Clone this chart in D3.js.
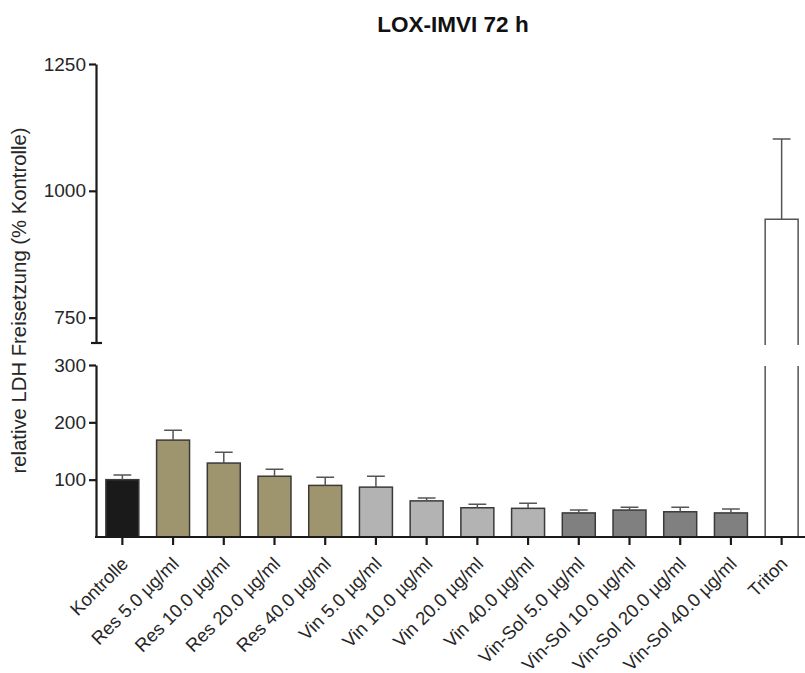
<!DOCTYPE html>
<html>
<head>
<meta charset="utf-8">
<script src="https://cdn.jsdelivr.net/npm/d3@7"></script>
<style>
  body { margin: 0; background: #fff; }
  svg { display: block; font-family: "Liberation Sans", Arial, sans-serif; }
</style>
</head>
<body>
<svg id="chart" width="805" height="673"></svg>
<script>
// ---- data ----
const categories = ["Kontrolle", "Res 5.0 µg/ml", "Res 10.0 µg/ml", "Res 20.0 µg/ml", "Res 40.0 µg/ml",
  "Vin 5.0 µg/ml", "Vin 10.0 µg/ml", "Vin 20.0 µg/ml", "Vin 40.0 µg/ml",
  "Vin-Sol 5.0 µg/ml", "Vin-Sol 10.0 µg/ml", "Vin-Sol 20.0 µg/ml", "Vin-Sol 40.0 µg/ml", "Triton"];
const groups = ["Kontrolle", "Res", "Res", "Res", "Res", "Vin", "Vin", "Vin", "Vin",
  "Vin-Sol", "Vin-Sol", "Vin-Sol", "Vin-Sol", "Triton"];
const means = [100, 169, 129, 106, 90, 87, 63, 51, 50, 42, 47, 44, 42, 944];
const errors = [8, 17, 19, 12, 14, 19, 5, 6, 9, 5, 5, 8, 7, 158];
const lowTicks = [100, 200, 300];
const highTicks = [750, 1000, 1250];
const lowDomain = [0, 300];
const highDomain = [700, 1250];
const title = "LOX-IMVI 72 h";
const yLabel = "relative LDH Freisetzung (% Kontrolle)";

// ---- styles ----
const groupColor = { "Kontrolle": "#1a1a1a", "Res": "#9e946d", "Vin": "#b3b3b3", "Vin-Sol": "#808080", "Triton": "#ffffff" };
const textColor = "#262626";

const svg = d3.select("#chart");
const axisX = 96;

const x = d3.scaleBand().domain(categories).range([97, 807]).paddingInner(0.35).paddingOuter(0.175);
const yLow = d3.scaleLinear().domain(lowDomain).range([537, 365]);
const yHigh = d3.scaleLinear().domain(highDomain).range([343, 64]);

const data = categories.map((c, i) => ({ c, g: groups[i], v: means[i], e: errors[i] }));

const barStroke = "#3a3a3a";
const bars = svg.append("g");
data.forEach(d => {
  const x0 = x(d.c), x1 = x(d.c) + x.bandwidth();
  const col = groupColor[d.g];
  if (d.v <= lowDomain[1]) {
    bars.append("rect").attr("x", x0).attr("y", yLow(d.v)).attr("width", x.bandwidth())
      .attr("height", yLow(0) - yLow(d.v)).attr("fill", col)
      .attr("stroke", barStroke).attr("stroke-width", 1.5);
  } else {
    const ytop = yLow(lowDomain[1]) + 1;
    bars.append("rect").attr("x", x0).attr("y", ytop).attr("width", x.bandwidth())
      .attr("height", yLow(0) - ytop).attr("fill", col);
    bars.append("path").attr("d", `M${x0},${ytop}V${yLow(0)}H${x1}V${ytop}`)
      .attr("fill", "none").attr("stroke", "#555").attr("stroke-width", 1.5);
    const ybot = yHigh(highDomain[0]) + 2;
    bars.append("rect").attr("x", x0).attr("y", yHigh(d.v)).attr("width", x.bandwidth())
      .attr("height", ybot - yHigh(d.v)).attr("fill", col);
    bars.append("path").attr("d", `M${x0},${ybot}V${yHigh(d.v)}H${x1}V${ybot}`)
      .attr("fill", "none").attr("stroke", "#555").attr("stroke-width", 1.5);
  }
  const ys = d.v <= lowDomain[1] ? yLow : yHigh;
  const cx = x0 + x.bandwidth() / 2;
  const cw = x.bandwidth() * 0.27;
  bars.append("path").attr("d", `M${cx},${ys(d.v)}V${ys(d.v + d.e)}M${cx - cw},${ys(d.v + d.e)}H${cx + cw}`)
    .attr("fill", "none").attr("stroke", "#555").attr("stroke-width", 1.5);
});

// ---- axes ----
function styleAxis(g) {
  g.selectAll("path.domain").attr("stroke", "#1a1a1a").attr("stroke-width", 2.2);
  g.selectAll(".tick line").attr("stroke", "#1a1a1a").attr("stroke-width", 2.2);
  g.selectAll(".tick text").attr("fill", textColor).style("font-size", "19px")
    .style("font-family", "'Liberation Sans', Arial, sans-serif");
}
const fmt = d3.format("d");

const gLow = svg.append("g").attr("transform", `translate(${axisX},0)`)
  .call(d3.axisLeft(yLow).tickValues(lowTicks).tickFormat(fmt).tickSize(7).tickSizeOuter(0).tickPadding(3));
styleAxis(gLow);
const gHigh = svg.append("g").attr("transform", `translate(${axisX},0)`)
  .call(d3.axisLeft(yHigh).tickValues(highTicks).tickFormat(fmt).tickSize(7).tickSizeOuter(0).tickPadding(3));
styleAxis(gHigh);
svg.append("path").attr("d", `M${axisX - 5},${yHigh(highDomain[0])}H${axisX + 6}`)
  .attr("stroke", "#1a1a1a").attr("stroke-width", 2.2);

const gx = svg.append("g").attr("transform", `translate(0,${yLow(0)})`)
  .call(d3.axisBottom(x).tickSize(8).tickSizeOuter(0));
gx.selectAll("path.domain").attr("stroke", "#1a1a1a").attr("stroke-width", 2.2)
  .attr("d", `M${axisX - 1},0H807`);
gx.selectAll(".tick line").attr("stroke", "#1a1a1a").attr("stroke-width", 2.2);
gx.selectAll(".tick text").attr("fill", textColor).style("font-size", "18.5px")
  .style("font-family", "'Liberation Sans', Arial, sans-serif")
  .attr("text-anchor", "end").attr("dy", null).attr("y", 0)
  .attr("transform", "translate(7,28) rotate(-45)");

// ---- titles ----
svg.append("text").attr("x", 453).attr("y", 32).attr("text-anchor", "middle")
  .attr("fill", "#111").style("font-size", "22.5px").style("font-weight", "bold").text(title);
svg.append("text").attr("transform", `translate(26,${(128 + 473) / 2}) rotate(-90)`)
  .attr("text-anchor", "middle").attr("fill", textColor).style("font-size", "20.3px").text(yLabel);
</script>
</body>
</html>
